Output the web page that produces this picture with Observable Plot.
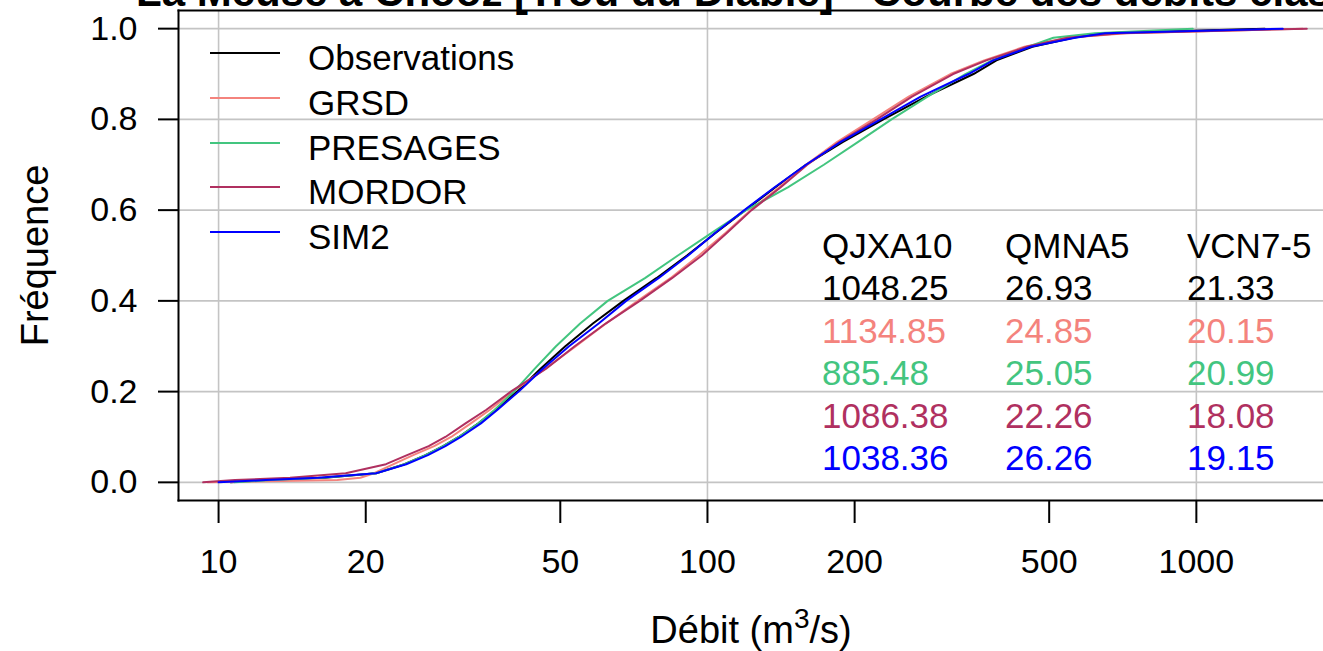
<!DOCTYPE html>
<html><head><meta charset="utf-8">
<script src="https://cdn.jsdelivr.net/npm/d3@7"></script>
<script src="https://cdn.jsdelivr.net/npm/@observablehq/plot@0.6"></script>
<style>
html,body{margin:0;padding:0;background:#fff;overflow:hidden;}
body{font-family:"Liberation Sans",Arial,sans-serif;color:#000;}
#wrap{position:relative;width:1323px;height:651px;overflow:hidden;}
#title{position:absolute;left:136px;top:-29px;font-size:42px;line-height:42px;font-weight:bold;white-space:nowrap;}
.lrow{position:absolute;left:210px;height:44px;display:flex;align-items:center;white-space:nowrap;font-size:35px;}
.lline{width:70px;height:2px;margin-right:28px;}
.ltxt{position:relative;top:5px;}
.cell{position:absolute;font-size:35px;line-height:42px;white-space:nowrap;}
</style></head>
<body><div id="wrap"><div id="title"></div><div id="chart"></div><div id="legend"></div><div id="stats"></div></div>
<script>
// ---- data ----
const freq = [0, 0.005, 0.01, 0.02, 0.04, 0.06, 0.08, 0.10, 0.13, 0.16, 0.20, 0.25, 0.30, 0.35, 0.40, 0.45, 0.50, 0.55, 0.60, 0.65, 0.70, 0.75, 0.80, 0.85, 0.90, 0.93, 0.96, 0.98, 0.99, 1.0];
const obsFlow      = [10.6, 12.5, 16.5, 21.0, 24.0, 26.5, 28.8, 31.0, 34.0, 36.9, 40.8, 45.5, 51.2, 58.3, 67.3, 78.6, 90.8, 104.0, 119.5, 137.5, 159, 189, 229, 280, 350, 390, 462, 560, 640, 1380];
const grsdFlow     = [9.5, 17.5, 19.5, 20.8, 22.8, 25.0, 27.6, 29.9, 32.8, 35.9, 40.0, 46.5, 53.8, 62.0, 72.0, 84.0, 96.0, 109.0, 122.5, 140, 159, 184, 218, 258, 314, 368, 445, 545, 720, 1650];
const presagesFlow = [10.8, 12.8, 16.3, 21.0, 24.0, 26.5, 28.8, 31.0, 34.0, 36.7, 40.2, 44.3, 49.0, 54.9, 62.5, 74.5, 87.0, 102.0, 120.0, 146, 173, 203, 238, 282, 337, 382, 453, 510, 620, 983];
const mordorFlow   = [9.3, 10.8, 14.0, 18.2, 22.0, 24.3, 26.9, 29.1, 32.0, 35.3, 39.6, 46.7, 53.5, 61.9, 72.7, 84.6, 97.4, 109.7, 123.1, 141, 160, 186, 222, 262, 318, 372, 450, 545, 700, 1682];
const sim2Flow     = [10.0, 12.5, 16.0, 21.0, 24.2, 26.8, 29.1, 31.3, 34.4, 37.2, 41.1, 46.0, 52.1, 59.9, 68.2, 79.4, 91.3, 103.8, 119.0, 137.0, 159, 187, 226, 273, 342, 384, 458, 565, 650, 1502];

const seriesNames  = ["Observations", "GRSD", "PRESAGES", "MORDOR", "SIM2"];
const seriesColors = ["#000000", "#F4837D", "#43C57F", "#B03060", "#0000FF"];

const statHeaders = ["QJXA10", "QMNA5", "VCN7-5"];
const qjxa10 = ["1048.25", "1134.85", "885.48", "1086.38", "1038.36"];
const qmna5  = ["26.93", "24.85", "25.05", "22.26", "26.26"];
const vcn75  = ["21.33", "20.15", "20.99", "18.08", "19.15"];

const xTicks = [10, 20, 50, 100, 200, 500, 1000];
const xGrid  = [10, 100, 1000];
const yTicks = [0, 0.2, 0.4, 0.6, 0.8, 1.0];

const titleText = "La Meuse à Chooz [Trou du Diable] - Courbe des débits classés";
const xLabelParts = ["Débit (m", "3", "/s)"];
const yLabel = "Fréquence";

// ---- build ----
const flows = [obsFlow, grsdFlow, presagesFlow, mordorFlow, sim2Flow];
const rows = seriesNames.flatMap((s, i) => freq.map((f, j) => ({series: s, q: flows[i][j], f})));

const font = '"Liberation Sans", Arial, sans-serif';
const chart = Plot.plot({
  width: 1323, height: 651,
  marginLeft: 178, marginRight: 0, marginTop: 10, marginBottom: 151,
  x: {type: "log", domain: [8.28, 1820]},
  y: {domain: [-0.04, 1.04]},
  color: {domain: seriesNames, range: seriesColors},
  style: {fontFamily: font, fontSize: "34px", color: "#000", background: "#fff"},
  marks: [
    Plot.gridX(xGrid, {stroke: "#c4c4c4", strokeOpacity: 1, strokeWidth: 1.6}),
    Plot.gridY(yTicks, {stroke: "#c4c4c4", strokeOpacity: 1, strokeWidth: 1.6}),
    Plot.line(rows, {x: "q", y: "f", z: "series", stroke: "series", strokeWidth: 2}),
    Plot.axisX(xTicks, {tickSize: 23, tickPadding: 25, tickFormat: d => String(d), label: null, fontSize: 34, strokeWidth: 2}),
    Plot.axisY(yTicks, {tickSize: 20, tickPadding: 21, tickFormat: d => d.toFixed(1), label: null, fontSize: 34, strokeWidth: 2}),
    Plot.frame({anchor: "left", strokeWidth: 2}),
    Plot.frame({anchor: "top", strokeWidth: 2}),
    Plot.frame({anchor: "bottom", strokeWidth: 2}),
    Plot.text([yLabel], {frameAnchor: "left", dx: -143, rotate: -90, textAnchor: "middle", lineAnchor: "middle", fontSize: 38}),
    Plot.text([xLabelParts.join("")], {frameAnchor: "bottom", dy: 142, textAnchor: "middle", lineAnchor: "bottom", fontSize: 38, className: "xlab"})
  ]
});
document.getElementById("chart").appendChild(chart);
document.getElementById("title").textContent = titleText;

// superscript in the x-axis label
const xl = chart.querySelector(".xlab text");
if (xl) {
  xl.textContent = "";
  const ns = "http://www.w3.org/2000/svg";
  const t1 = document.createElementNS(ns, "tspan"); t1.textContent = xLabelParts[0];
  const t2 = document.createElementNS(ns, "tspan"); t2.textContent = xLabelParts[1];
  t2.setAttribute("dy", "-15"); t2.setAttribute("font-size", "28");
  const t3 = document.createElementNS(ns, "tspan"); t3.textContent = xLabelParts[2];
  t3.setAttribute("dy", "15");
  xl.append(t1, t2, t3);
}

// legend (inside plot, top-left)
const legend = document.getElementById("legend");
seriesNames.forEach((s, i) => {
  const row = document.createElement("div");
  row.className = "lrow";
  row.style.top = (53 + i * 44.8 - 22) + "px";
  const ln = document.createElement("div");
  ln.className = "lline"; ln.style.background = seriesColors[i];
  const tx = document.createElement("span");
  tx.className = "ltxt"; tx.textContent = s;
  row.appendChild(ln); row.appendChild(tx);
  legend.appendChild(row);
});

// stats table
const stats = document.getElementById("stats");
const cols = [qjxa10, qmna5, vcn75];
const colX = [822, 1005, 1187];
const addCell = (txt, x, y, color) => {
  const c = document.createElement("div");
  c.className = "cell"; c.textContent = txt;
  c.style.left = x + "px"; c.style.top = y + "px"; c.style.color = color;
  stats.appendChild(c);
};
statHeaders.forEach((h, k) => addCell(h, colX[k], 225, "#000"));
seriesNames.forEach((s, i) => {
  cols.forEach((col, k) => addCell(col[i], colX[k], 225 + 42.4 * (i + 1), seriesColors[i]));
});
</script>
</body></html>
